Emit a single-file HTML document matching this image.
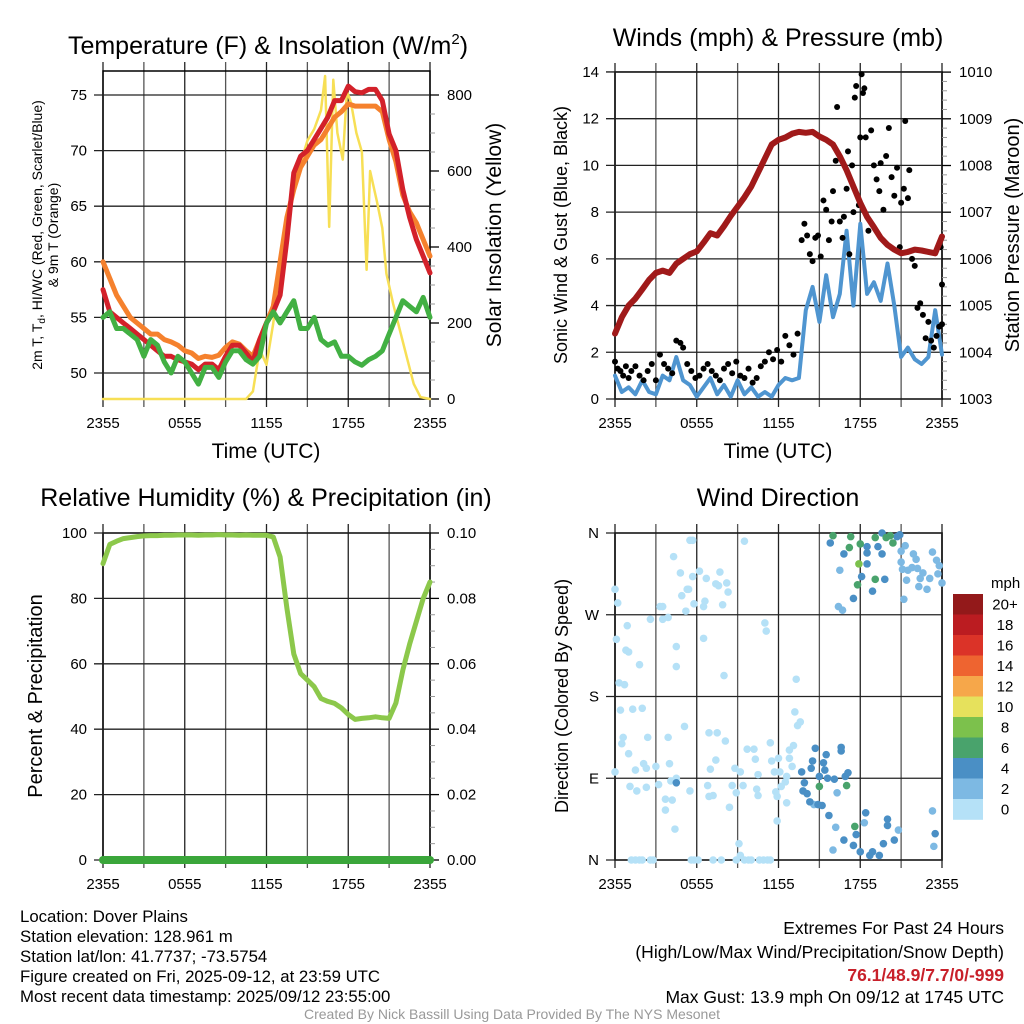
<!DOCTYPE html>
<html><head><meta charset="utf-8"><style>
html,body{margin:0;padding:0;background:#fff;}
svg{display:block;font-family:"Liberation Sans",Arial,sans-serif;}
</style></head><body>
<svg id="fig" xmlns="http://www.w3.org/2000/svg" width="1024" height="1024" viewBox="0 0 1024 1024">
<rect x="0" y="0" width="1024" height="1024" fill="#fff"/>
<g id="g1"></g>
<g id="g2"></g>
<g id="g3"></g>
<g id="g4"></g>

<text x="268" y="54" font-size="25" text-anchor="middle">Temperature (F) &amp; Insolation (W/m<tspan font-size="15" dy="-10">2</tspan><tspan dy="10">)</tspan></text>
<text x="778" y="46" font-size="25" text-anchor="middle">Winds (mph) &amp; Pressure (mb)</text>
<text x="266" y="506" font-size="25" text-anchor="middle">Relative Humidity (%) &amp; Precipitation (in)</text>
<text x="778" y="506" font-size="25" text-anchor="middle">Wind Direction</text>

<text x="266" y="458" font-size="21" text-anchor="middle">Time (UTC)</text>
<text x="778" y="458" font-size="21" text-anchor="middle">Time (UTC)</text>

<text transform="translate(42,235) rotate(-90)" font-size="14" text-anchor="middle">2m T, T<tspan font-size="10" dy="3">d</tspan><tspan dy="-3">, HI/WC (Red, Green, Scarlet/Blue)</tspan></text>
<text transform="translate(58,235) rotate(-90)" font-size="14" text-anchor="middle">&amp; 9m T (Orange)</text>
<text transform="translate(501,235) rotate(-90)" font-size="21" text-anchor="middle">Solar Insolation (Yellow)</text>
<text transform="translate(567,235) rotate(-90)" font-size="18" text-anchor="middle">Sonic Wind &amp; Gust (Blue, Black)</text>
<text transform="translate(1019,235) rotate(-90)" font-size="20" text-anchor="middle">Station Pressure (Maroon)</text>
<text transform="translate(42,696) rotate(-90)" font-size="20" text-anchor="middle">Percent &amp; Precipitation</text>
<text transform="translate(568,696) rotate(-90)" font-size="18" text-anchor="middle">Direction (Colored By Speed)</text>

<g font-size="16.8">
<text x="20" y="922">Location: Dover Plains</text>
<text x="20" y="942">Station elevation: 128.961 m</text>
<text x="20" y="962">Station lat/lon: 41.7737; -73.5754</text>
<text x="20" y="982">Figure created on Fri, 2025-09-12, at 23:59 UTC</text>
<text x="20" y="1002">Most recent data timestamp: 2025/09/12 23:55:00</text>
</g>
<g font-size="17.5" text-anchor="end">
<text x="1004" y="934">Extremes For Past 24 Hours</text>
<text x="1004" y="958">(High/Low/Max Wind/Precipitation/Snow Depth)</text>
<text x="1004" y="981" font-weight="bold" fill="#c8202a">76.1/48.9/7.7/0/-999</text>
<text x="1004" y="1003">Max Gust: 13.9 mph On 09/12 at 1745 UTC</text>
</g>
<text x="512" y="1019" font-size="14" fill="#999" text-anchor="middle">Created By Nick Bassill Using Data Provided By The NYS Mesonet</text>
</svg>
<script>
// ---------- data ----------
const xTickLabels = ["2355","0555","1155","1755","2355"];
const temp2m = [57.5,55.5,55,54.5,54,53.5,53,52.5,52,51.5,51.5,51.2,51,50.8,50.3,50.8,50.8,50.3,51.5,52.5,52.5,51.8,51,53,54.5,55.5,57,62,68,69.5,70,71,72,73,74.5,74.5,75.8,75.3,75.2,75.5,75.5,74.5,71.5,70,66.5,64,62,60.5,59];
const temp9m = [60,58.5,57,56,55,54.5,54,53.5,53.5,53,52.8,52.5,52,51.8,51.3,51.5,51.4,51.6,52.3,52.8,52.6,52,51.5,53,54.5,56,60,64,66.5,68.5,69.5,70.5,71,72,73,73.5,74.2,74,74,74,74,73.5,71,69,66,64.5,63.5,62,60.5];
const dewpt = [55,55.5,54,54,53.5,53,51.5,53,52.5,51,50,51.5,51,50,49,50.5,50.5,49.6,51,52,52,51.2,50.8,51.5,54.5,55.5,54.5,55.5,56.5,54,54,55,53,52.5,52.8,51.5,51.5,51,50.7,51.2,51.5,52,53.5,55,56.5,56,55.5,56.8,55];
const insHours = [0,10.5,11,11.5,12,12.5,13,13.5,14,14.5,15,15.5,16,16.3,16.6,16.9,17.2,17.6,17.9,18.2,18.6,19.0,19.35,19.6,20.1,20.5,20.8,21.3,21.8,22.3,22.8,23.3,24];
const insVals = [0,0,20,130,90,200,340,470,560,620,680,710,760,850,453,840,700,630,810,780,700,650,340,600,520,450,330,250,180,110,40,5,0];
const windSpd = [1.0,0.3,0.5,0.2,0.8,0.3,0.2,1.0,0.8,1.8,0.8,0.6,0.1,0.5,0.9,0.2,0.6,0.1,0.8,0.2,0.5,0.1,0.3,0.1,0.6,0.9,0.8,0.9,3.8,4.8,3.3,5.3,3.5,4.5,7.2,4.0,7.5,4.5,5.0,4.2,5.8,4.0,1.8,2.2,1.7,1.5,1.8,3.8,1.9];
const pressure = [1004.4,1004.75,1005.0,1005.15,1005.35,1005.55,1005.7,1005.75,1005.7,1005.9,1006.0,1006.1,1006.16,1006.35,1006.55,1006.5,1006.7,1006.92,1007.12,1007.32,1007.55,1007.85,1008.15,1008.45,1008.55,1008.6,1008.68,1008.72,1008.7,1008.72,1008.62,1008.55,1008.45,1008.2,1007.9,1007.55,1007.2,1006.9,1006.68,1006.45,1006.3,1006.2,1006.12,1006.15,1006.2,1006.18,1006.15,1006.12,1006.48];
const gustHours = [0,0.2,0.4,0.6,0.8,1.0,1.2,1.5,1.8,2.1,2.4,2.7,3.0,3.3,3.6,3.9,4.2,4.5,4.8,5.0,5.3,5.6,5.9,6.2,6.5,6.8,7.1,7.4,7.7,8.0,8.3,8.6,8.9,9.2,9.5,9.8,10.1,10.4,10.7,11.0,11.3,11.6,11.9,12.2,12.5,12.8,13.1,13.4,13.7,13.9,14.1,14.3,14.5,14.7,14.9,15.1,15.3,15.5,15.7,15.9,16.0,16.2,16.3,16.5,16.7,16.8,17.0,17.1,17.2,17.4,17.5,17.6,17.7,17.9,18.0,18.1,18.2,18.3,18.4,18.6,18.8,19.0,19.2,19.4,19.5,19.7,19.9,20.1,20.3,20.5,20.7,20.9,21.0,21.2,21.3,21.5,21.6,21.8,22.0,22.2,22.4,22.6,22.8,23.0,23.2,23.4,23.6,23.8,23.9,24.0,24.0];
const gustVals = [1.6,1.3,1.2,1.0,1.4,0.9,1.2,1.4,1.0,0.8,1.2,1.5,0.8,1.9,1.5,1.3,1.1,2.5,2.4,2.2,1.5,1.2,0.9,1.0,1.3,1.5,1.2,1.0,0.8,1.3,1.5,1.1,1.6,1.0,0.9,1.3,0.7,0.9,1.4,1.6,2.0,1.7,2.1,1.6,2.7,2.3,1.9,2.8,6.8,7.5,7.0,6.2,5.9,6.9,7.0,6.1,8.5,8.1,6.8,7.6,8.9,10.2,12.5,7.6,6.9,7.8,9.0,10.6,6.2,10.0,8.0,12.9,13.4,8.3,11.2,13.9,13.1,13.3,11.2,7.2,11.5,10.0,9.4,8.9,10.1,8.1,10.4,11.6,9.5,8.7,9.9,6.5,8.4,9.0,11.9,8.6,9.8,6.0,5.7,3.9,4.1,3.6,2.6,3.3,2.5,2.2,2.7,3.1,6.5,4.9,3.2];
const rh = [90.6,96.5,97.5,98.3,98.6,98.9,99.1,99.2,99.2,99.3,99.3,99.4,99.4,99.4,99.3,99.4,99.4,99.5,99.4,99.4,99.3,99.4,99.3,99.3,99.3,98.8,92.7,77,63,57,55,53,49.4,48.5,47.9,46.5,44.5,43,43.3,43.5,43.8,43.5,43.3,48,58,66,73,80,85];
const precip = [0,0,0,0,0,0,0,0,0,0,0,0,0,0,0,0,0,0,0,0,0,0,0,0,0,0,0,0,0,0,0,0,0,0,0,0,0,0,0,0,0,0,0,0,0,0,0,0,0];
const dirHours = [0,0.2,0.1,0.9,0.8,1.0,1.8,0.3,0.7,0.4,1.3,2.0,0.6,0.5,1.0,2.4,2.1,2.3,1.5,3.0,0,1.1,1.6,2.3,3.2,3.7,4.2,3.7,4.1,4.5,4.0,3.9,5.1,4.5,4.5,2.6,3.5,3.9,3.3,3.5,4.3,4.8,4.9,5.2,5.3,5.4,5.7,5.8,5.5,5.7,6.2,6.5,6.6,6.7,7.4,7.6,7.7,7.9,8.2,8.3,6.5,8.0,9.5,11.0,11.1,13.3,13.2,13.4,13.6,6.9,7.5,8.1,7.4,7.0,6.8,6.9,7.2,5.5,8.4,8.8,9.2,8.6,8.9,9.4,9.1,9.2,9.7,10.2,10.3,10.5,10.4,10.5,11.4,11.5,11.7,12.0,11.8,11.9,12.1,12.2,12.5,12.6,11.9,12.6,12.8,13.1,12.8,13.0,4.4,
 1.2,1.5,1.8,2.0,2.6,2.8,5.6,5.8,6.1,7.2,7.8,8.9,9.5,9.8,10.0,10.6,10.9,11.2,11.4,
 21.0,21.3,21.9,22.1,21.0,21.1,21.5,21.8,22.2,22.6,21.4,22.4,22.3,22.9,23.1,23.3,23.6,23.8,23.7,24.0,21.2,16.4,16.7,16.5,14.6,16.0,16.2,16.3,18.3,20.8,23.3,23.4,
 15.8,16.8,17.5,18.5,18.5,18.5,18.9,19.3,19.6,19.6,19.8,20.7,20.9,18.1,13.7,13.9,13.8,14.1,14.3,14.4,14.5,14.7,15.0,14.9,15.2,15.3,15.4,15.5,15.6,15.7,16.1,16.6,16.6,16.9,17.1,16.8,17.5,17.7,18.0,18.4,18.7,18.9,19.4,19.7,20.0,20.0,20.5,23.5,4.5,
 16.0,17.3,17.2,18.0,19.1,17.8,19.1,19.9,20.2,20.4,15.0,17.0,17.6,17.9];
const dirDeg = [298,283,243,258,231,229,215,195,193,165,166,167,135,128,117,135,106,101,99,103,97,81,76,80,83,67,66,55,87,90,106,135,147,235,213,265,265,267,279,279,334,316,291,274,298,298,312,282,352,352,318,279,285,310,304,302,317,281,305,295,244,203,351,261,252,199,163,148,152,140,140,131,110,100,82,70,71,76,58,101,97,82,74,82,18,5,122,122,111,94,78,71,129,109,97,112,75,70,97,81,86,63,43,92,121,126,112,103,34,
 0,0,0,0,0,0,0,0,0,0,0,0,0,0,0,0,0,0,0,
 340,346,337,331,328,320,319,322,321,316,308,310,301,298,310,339,330,324,315,305,287,279,275,319,61,11,36,74,41,33,54,15,
 349,337,288,345,326,338,296,345,337,360,309,356,358,312,97,85,76,73,64,101,109,123,92,61,60,107,99,116,90,49,89,124,120,92,96,22,16,28,9,52,5,9,5,18,38,45,22,29,85,
 357,356,344,348,309,303,355,355,357,349,81,82,37,326];
const dirSpd = [1,1,1,1,1,1,1,1,1,1,1,1,1,1,1,1,1,1,1,1,1,1,1,1,1,1,1,1,1,1,1,1,1,1,1,1,1,1,1,1,1,1,1,1,1,1,1,1,1,1,1,1,1,1,1,1,1,1,1,1,1,1,1,1,1,1,1,1,1,1,1,1,1,1,1,1,1,1,1,1,1,1,1,1,1,1,1,1,1,1,1,1,1,1,1,1,1,1,1,1,1,1,1,1,1,1,1,1,1,
 1,1,1,1,1,1,1,1,1,1,1,1,1,1,1,1,1,1,1,
 3,3,3,3,3,3,3,3,3,3,3,3,3,3,3,3,3,3,3,3,3,3,3,3,3,3,3,3,3,3,3,3,
 5,5,5,5,5,5,5,5,5,5,5,5,5,5,5,5,5,5,5,5,5,5,5,5,5,5,5,5,5,5,5,5,5,5,5,5,5,5,5,5,5,5,5,5,5,5,5,5,5,
 7,7,7,7,7,7,7,7,7,7,7,7,7,9];
const cbarLabels = ["20+","18","16","14","12","10","8","6","4","2","0"];
const cbarColors = ["#93191a","#bb1c21","#db3328","#ee6430","#f6a74a","#e6e15c","#7cc14c","#49a36c","#4a8fc5","#7db9e3","#b5e1f7"];
const tempTicks = [50,55,60,65,70,75];
const insTicks = [0,200,400,600,800];
const windTicks = [0,2,4,6,8,10,12,14];
const presTicks = [1003,1004,1005,1006,1007,1008,1009,1010];
const rhTicks = [0,20,40,60,80,100];
const prTicks = ["0.00","0.02","0.04","0.06","0.08","0.10"];
const dirTicks = ["N","E","S","W","N"];

// ---------- helpers ----------
const NS = "http://www.w3.org/2000/svg";
function mk(parent, tag, attrs, txt){
  const e = document.createElementNS(NS, tag);
  for (const k in attrs) e.setAttribute(k, attrs[k]);
  if (txt !== undefined) e.textContent = txt;
  parent.appendChild(e);
  return e;
}
function panel(x0,x1,y0,y1){ return {x0,x1,y0,y1,x:h=>x0+h/24*(x1-x0)}; }
function frame(g,p){
  for (let k=0;k<=8;k++){
    const x = p.x(k*3);
    const l = mk(g,"line",{x1:x,x2:x,y1:p.y0-9,y2:p.y1+8,stroke:(k%2?"#555":"#222"),"stroke-width":1.3});
    
    
  }
  const r = mk(g,"rect",{x:p.x0,y:p.y0,width:p.x1-p.x0,height:p.y1-p.y0,fill:"none",stroke:"#000","stroke-width":1.5});
  
  
  xTickLabels.forEach((s,i)=>{
    const t = mk(g,"text",{x:p.x(i*6),y:p.y1+29,"font-size":15,"text-anchor":"middle"},s);
    
    
  });
}
function leftAxis(g,p,vals,fy,labels){
  vals.forEach((v,i)=>{
    const y = fy(v);
    const l = mk(g,"line",{x1:p.x0-9,x2:p.x1,y1:y,y2:y,stroke:"#222","stroke-width":1.3});
    
    
    const t = mk(g,"text",{x:p.x0-16,y:y+5,"font-size":15,"text-anchor":"end"},labels?labels[i]:String(v));
    
    
  });
}
function rightAxis(g,p,vals,fy,labels,minorN){
  vals.forEach((v,i)=>{
    const y = fy(v);
    const l = mk(g,"line",{x1:p.x1,x2:p.x1+9,y1:y,y2:y,stroke:"#000","stroke-width":1.3});
    
    
    const t = mk(g,"text",{x:p.x1+17,y:y+5,"font-size":15},labels?labels[i]:String(v));
    
    
    if (i<vals.length-1){
      const y2 = fy(vals[i+1]);
      for (let m=1;m<minorN;m++){
        const ym = y+(y2-y)*m/minorN;
        const ml = mk(g,"line",{x1:p.x1,x2:p.x1+5,y1:ym,y2:ym,stroke:"#999","stroke-width":1});
        
        
      }
    }
  });
}
function series(g,p,hours,vals,fy,color,w,name){
  const d = vals.map((v,i)=>(i?"L":"M")+p.x(hours(i)).toFixed(1)+","+fy(v).toFixed(1)).join("");
  const e = mk(g,"path",{d:d,fill:"none",stroke:color,"stroke-width":w,"stroke-linejoin":"round","stroke-linecap":"round"});
  
  
}
const half = i=>i*0.5;

// ---------- panel 1 ----------
const g1 = document.getElementById("g1");
const p1 = panel(103,430,71,399);
const yT = v=>373-(v-50)*11.12;
const yI = v=>399-v*0.38;
frame(g1,p1);
leftAxis(g1,p1,tempTicks,yT);
rightAxis(g1,p1,insTicks,yI,null,4);
series(g1,p1,i=>insHours[i],insVals,yI,"#f7df55",2.5,"insolation-line");
series(g1,p1,half,temp9m,yT,"#f5812d",5,"temp-9m-line");
series(g1,p1,half,temp2m,yT,"#d3212a",5,"temp-2m-line");
series(g1,p1,half,dewpt,yT,"#42b043",5,"dewpoint-line");

// ---------- panel 2 ----------
const g2 = document.getElementById("g2");
const p2 = panel(615,942,72,399);
const yW = v=>399-v*23.36;
const yP = v=>399-(v-1003)*46.7;
frame(g2,p2);
leftAxis(g2,p2,windTicks,yW);
rightAxis(g2,p2,presTicks,yP,null,5);
series(g2,p2,half,windSpd,yW,"#4f95d0",4,"wind-speed-line");
gustHours.forEach((h,i)=>{
  const c = mk(g2,"circle",{cx:p2.x(h),cy:yW(gustVals[i]),r:3,fill:"#000"});
  
  
});
series(g2,p2,half,pressure,yP,"#a01a1a",6,"pressure-line");

// ---------- panel 3 ----------
const g3 = document.getElementById("g3");
const p3 = panel(103,430,533,860);
const yR = v=>860-v*3.27;
const yPr = v=>860-v*3270;
frame(g3,p3);
leftAxis(g3,p3,rhTicks,yR);
rightAxis(g3,p3,prTicks.map(Number),yPr,prTicks,4);
series(g3,p3,half,rh,yR,"#8cc84b",5,"humidity-line");
series(g3,p3,half,precip,yPr,"#3aa63a",8,"precip-line");

// ---------- panel 4 ----------
const g4 = document.getElementById("g4");
const p4 = panel(615,942,533,860);
const yD = d=>860-d/360*327;
frame(g4,p4);
leftAxis(g4,p4,[0,90,180,270,360],yD,dirTicks);
function spdColor(s){ const idx = Math.min(10,Math.floor(s/2)); return cbarColors[10-idx]; }
dirHours.forEach((h,i)=>{
  const c = mk(g4,"circle",{cx:p4.x(h),cy:yD(dirDeg[i]),r:3.8,fill:spdColor(dirSpd[i])});
  
  
});
const cb = mk(g4,"g",{});


const mt = mk(cb,"text",{x:991,y:588,"font-size":15},"mph");


cbarColors.forEach((c,i)=>{
  const r = mk(cb,"rect",{x:953,y:594+i*20.5,width:30,height:20.8,fill:c});
  
  
  const t = mk(cb,"text",{x:1005,y:594+i*20.5+15.5,"font-size":15,"text-anchor":"middle"},cbarLabels[i]);
  
  
});
</script>
</body></html>
